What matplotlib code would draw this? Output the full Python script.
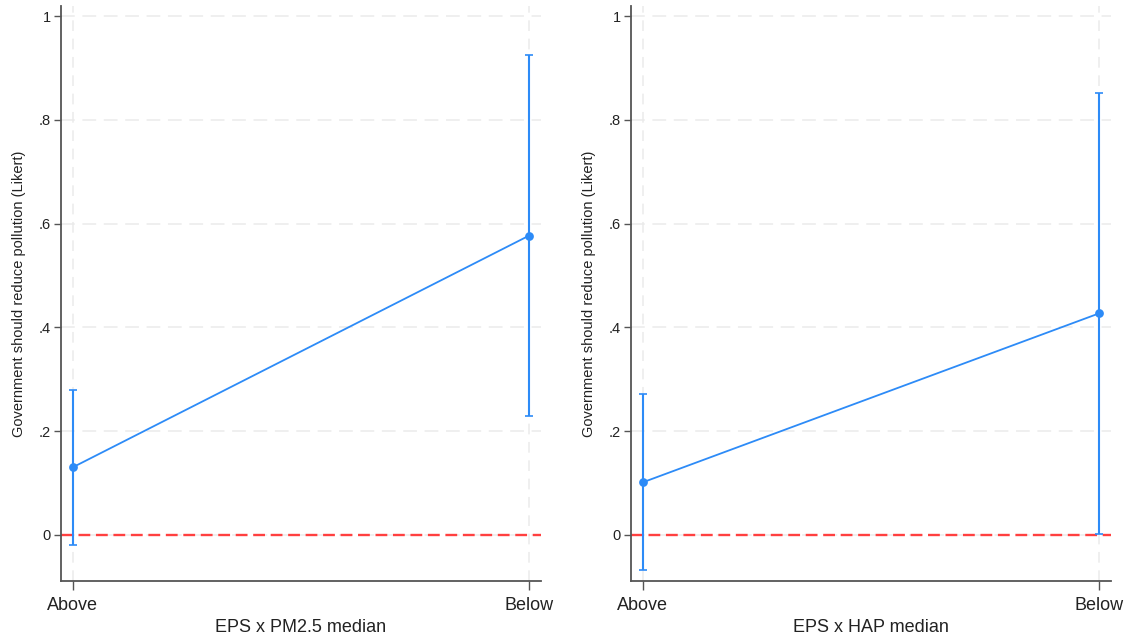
import matplotlib
matplotlib.use("Agg")
import matplotlib.pyplot as plt

plt.rcParams["font.family"] = ["Liberation Sans", "DejaVu Sans"]

# Margins of EPS effect by pollution median split
GROUPS = ["Above", "Below"]

PM25_EST = [0.130, 0.577]
PM25_LO = [-0.019, 0.229]
PM25_HI = [0.279, 0.926]

HAP_EST = [0.101, 0.427]
HAP_LO = [-0.068, 0.001]
HAP_HI = [0.272, 0.851]

Y_TICKS = [0, 0.2, 0.4, 0.6, 0.8, 1.0]
Y_TICK_LABELS = ["0", ".2", ".4", ".6", ".8", "1"]

Y_TITLE = "Government should reduce pollution (Likert)"
PANELS = [
    ("EPS x PM2.5 median", PM25_EST, PM25_LO, PM25_HI),
    ("EPS x HAP median", HAP_EST, HAP_LO, HAP_HI),
]

BLUE = "#2d8bf7"
RED = "#ff4040"
GRID = "#ebebeb"
SPINE = "#555555"
TEXT = "#222222"

W, H = 1130, 641
fig = plt.figure(figsize=(W / 100, H / 100), dpi=100)

ax_left_px = [61, 631]
ax_w_px = 480
ax_top_px, ax_bot_px = 5.8, 581.4

for (xtitle, est, lo, hi), left_px in zip(PANELS, ax_left_px):
    ax = fig.add_axes([
        left_px / W,
        1 - ax_bot_px / H,
        ax_w_px / W,
        (ax_bot_px - ax_top_px) / H,
    ])
    xs = list(range(len(GROUPS)))

    # grid
    for y in Y_TICKS:
        ax.axhline(y, color=GRID, lw=1.1, dashes=(9, 5), zorder=0)
    for x in xs:
        ax.axvline(x, color=GRID, lw=1.1, dashes=(7, 5), zorder=0)

    ax.axhline(0, color=RED, lw=1.7, dashes=(5.0, 2.4), zorder=1)

    yerr = [[e - l for e, l in zip(est, lo)], [h - e for e, h in zip(est, hi)]]
    ax.errorbar(xs, est, yerr=yerr, fmt="none", ecolor=BLUE, elinewidth=1.5,
                capsize=3.2, capthick=1.2, zorder=2)
    ax.plot(xs, est, color=BLUE, lw=1.3, marker="o", markersize=6.3,
            markeredgewidth=0, zorder=3)

    ax.set_xlim(-0.0257, 1.0257)
    ax.set_ylim(-0.09, 1.02)
    ax.set_xticks(xs)
    ax.set_xticklabels(GROUPS, fontsize=13, color=TEXT)
    ax.set_yticks(Y_TICKS)
    ax.set_yticklabels(Y_TICK_LABELS, fontsize=10.5, color=TEXT)

    ax.tick_params(axis="x", length=6.5, width=1, color=SPINE, pad=5)
    ax.tick_params(axis="y", length=5, width=1, color=SPINE, pad=2.5)

    for side in ["top", "right"]:
        ax.spines[side].set_visible(False)
    for side in ["left", "bottom"]:
        ax.spines[side].set_color(SPINE)
        ax.spines[side].set_linewidth(1.3)

    ax.set_xlabel(xtitle, fontsize=13, color=TEXT, labelpad=3)
    ax.set_ylabel(Y_TITLE, fontsize=10.5, color=TEXT)
    ax.yaxis.set_label_coords(-0.072, 0.5)

fig.savefig("out.png", dpi=100, facecolor="white")
